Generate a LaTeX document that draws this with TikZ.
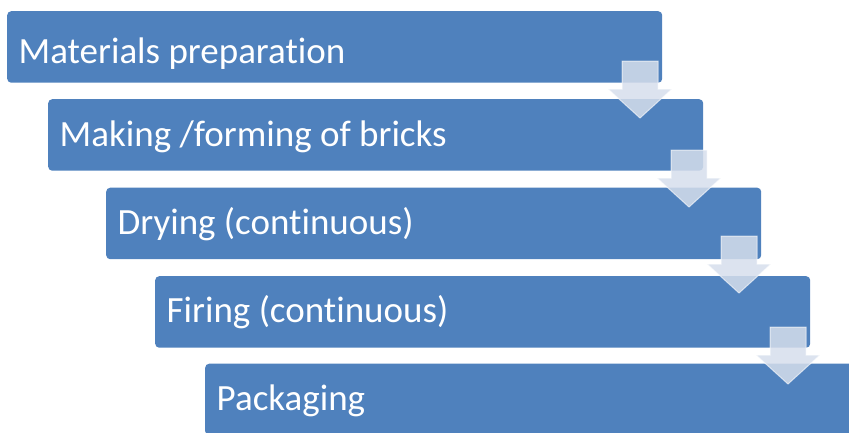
\documentclass[tikz,border=0pt]{standalone}
\usepackage{fontspec}
\setmainfont{Carlito}[Ligatures=NoCommon]
\usetikzlibrary{positioning}

\definecolor{stageblue}{RGB}{79,129,189}
\definecolor{arrowgrey}{RGB}{214,222,236}

\tikzset{
  stage/.style={fill=stageblue, rounded corners=4pt, inner sep=0pt,
    anchor=north west, minimum width=655pt, minimum height=71.5pt},
  stagetext/.style={text=white, font=\fontsize{37}{40}\selectfont,
    anchor=base west, inner sep=0pt},
  flowarrow/.style={fill=arrowgrey, fill opacity=0.85,
    draw=white, draw opacity=0.6, line width=1pt}
}

\begin{document}
\begin{tikzpicture}[x=1pt,y=-1pt]
\useasboundingbox (0,0) rectangle (849,432);
\clip (0,0) rectangle (849,432);

% process stages
\node[stage] (s1) at (7,11) {};
\node[stage] (s2) at (48,99) {};
\node[stage] (s3) at (106,187.5) {};
\node[stage] (s4) at (155,276) {};
\node[stage] (s5) at (205,363.5) {};

\node[stagetext] (t1) at ([shift={(11.5,52.5)}]s1.north west) {Materials preparation};
\node[stagetext] (t2) at ([shift={(11.5,47.5)}]s2.north west) {Making /forming of bricks};
\node[stagetext] (t3) at ([shift={(11.5,47)}]s3.north west) {Drying (continuous)};
\node[stagetext] (t4) at ([shift={(11.5,46.5)}]s4.north west) {Firing (continuous)};
\node[stagetext] (t5) at ([shift={(11.5,47)}]s5.north west) {Packaging};

% down arrows between the stages
\foreach \cx/\ty in {640/61, 689/150, 739/236, 788/327}{
  \draw[flowarrow] (\cx-18,\ty) -- (\cx+18,\ty) -- (\cx+18,\ty+28)
    -- (\cx+32,\ty+28) -- (\cx,\ty+57) -- (\cx-32,\ty+28)
    -- (\cx-18,\ty+28) -- cycle;
}
\end{tikzpicture}
\end{document}
